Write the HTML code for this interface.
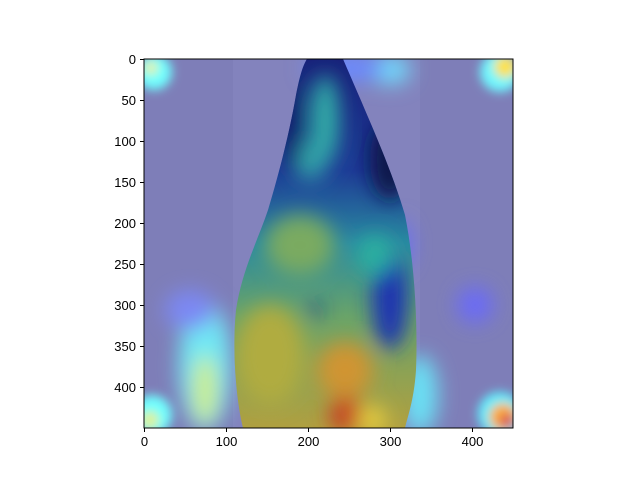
<!DOCTYPE html>
<html><head><meta charset="utf-8"><style>
body{margin:0;background:#fff;width:640px;height:480px;overflow:hidden}
svg{font-family:"Liberation Sans",sans-serif}
</style></head><body>
<svg width="640" height="480">
<defs>
<filter id="b5" x="-50%" y="-50%" width="200%" height="200%"><feGaussianBlur stdDeviation="5"/></filter>
<filter id="b10" x="-50%" y="-50%" width="200%" height="200%"><feGaussianBlur stdDeviation="10"/></filter>
<clipPath id="plot"><rect x="144" y="59" width="369" height="369"/></clipPath>
<clipPath id="leafclip"><path d="M307,59 L343,59 C365,110 392,170 405,215 C414,260 418,320 416,370 C414,400 408,415 405,428 L243,428 C236,400 232,350 236,310 C242,270 258,240 268,210 C280,170 290,130 296,95 C300,75 303,65 307,59 Z"/></clipPath>
<linearGradient id="leafg" x1="0" y1="0" x2="0" y2="1">
<stop offset="0" stop-color="#18217a"/><stop offset="0.3" stop-color="#1d3a96"/>
<stop offset="0.5" stop-color="#2a8aa0"/><stop offset="0.7" stop-color="#6aa468"/>
<stop offset="1" stop-color="#b0a040"/></linearGradient>
</defs>
<g clip-path="url(#plot)">
<rect x="144" y="59" width="369" height="369" fill="#7e7eb8"/>
<rect x="233" y="59" width="187" height="369" fill="#8383bd"/>
<g filter="url(#b10)">
<ellipse cx="205" cy="365" rx="26" ry="65" fill="#70e8f4"/>
<ellipse cx="205" cy="390" rx="12" ry="35" fill="#d0ec80"/>
<ellipse cx="190" cy="310" rx="25" ry="20" fill="#7c88f4"/>
<ellipse cx="390" cy="70" rx="20" ry="14" fill="#70e0ff"/>
<ellipse cx="345" cy="68" rx="40" ry="14" fill="#6a8aff"/>
<ellipse cx="420" cy="395" rx="18" ry="40" fill="#6ae0f4"/>
<ellipse cx="475" cy="305" rx="18" ry="18" fill="#6a6af8"/>
<ellipse cx="400" cy="245" rx="12" ry="25" fill="#6a70f0"/>
</g>
<g filter="url(#b5)">
<circle cx="154" cy="72" r="18" fill="#70ffff"/><circle cx="151" cy="68" r="7" fill="#e8f0a0"/>
<circle cx="500" cy="72" r="20" fill="#70f8ff"/><circle cx="505" cy="67" r="11" fill="#ffe040"/>
<circle cx="152" cy="415" r="20" fill="#70ffff"/><circle cx="150" cy="420" r="9" fill="#e0f090"/>
<circle cx="500" cy="414" r="22" fill="#60f0ff"/><circle cx="503" cy="417" r="14" fill="#ffb030"/><circle cx="507" cy="421" r="8" fill="#d86060"/>
</g>
<g clip-path="url(#leafclip)">
<rect x="230" y="59" width="200" height="369" fill="url(#leafg)"/>
<g filter="url(#b10)">
<ellipse cx="325" cy="120" rx="14" ry="45" fill="#30b0a8"/>
<ellipse cx="310" cy="160" rx="18" ry="20" fill="#30a0a8"/>
<ellipse cx="300" cy="245" rx="35" ry="30" fill="#7aaa60"/>
<ellipse cx="390" cy="160" rx="20" ry="40" fill="#10154a"/>
<ellipse cx="292" cy="125" rx="10" ry="45" fill="#0c1868"/>
<ellipse cx="390" cy="300" rx="18" ry="50" fill="#1c34b0"/>
<ellipse cx="375" cy="255" rx="18" ry="20" fill="#2ab0a0"/>
<ellipse cx="270" cy="355" rx="35" ry="50" fill="#b0ac40"/>
<ellipse cx="345" cy="370" rx="28" ry="28" fill="#d09430"/>
<ellipse cx="345" cy="415" rx="16" ry="18" fill="#c84020"/>
<ellipse cx="372" cy="420" rx="14" ry="14" fill="#e8d040"/>
<ellipse cx="315" cy="310" rx="7" ry="7" fill="#1c3a90"/>
</g>
</g>
</g>
<rect x="144" y="59" width="369" height="369" fill="none" stroke="#000" stroke-width="1"/>
<g id="xt"></g>
<g id="yt"></g>
</svg>
<script>
const xTicks=[0,100,200,300,400];
const yTicks=[0,50,100,150,200,250,300,350,400];
const x0=144.5,y0=59.5,s=369/450;
const ns="http://www.w3.org/2000/svg";
const xt=document.getElementById('xt'),yt=document.getElementById('yt');
xTicks.forEach(v=>{const x=x0+v*s;
const l=document.createElementNS(ns,'line');


l.setAttribute('x1',x);l.setAttribute('x2',x);l.setAttribute('y1',428);l.setAttribute('y2',432);l.setAttribute('stroke','#000');xt.appendChild(l);
const t=document.createElementNS(ns,'text');


t.setAttribute('x',x);t.setAttribute('y',446);t.setAttribute('text-anchor','middle');t.setAttribute('font-size','13');t.textContent=v;xt.appendChild(t);});
yTicks.forEach(v=>{const y=y0+v*s;
const l=document.createElementNS(ns,'line');


l.setAttribute('x1',140);l.setAttribute('x2',144);l.setAttribute('y1',y);l.setAttribute('y2',y);l.setAttribute('stroke','#000');yt.appendChild(l);
const t=document.createElementNS(ns,'text');


t.setAttribute('x',136);t.setAttribute('y',y+4.5);t.setAttribute('text-anchor','end');t.setAttribute('font-size','13');t.textContent=v;yt.appendChild(t);});
</script>
</body></html>
